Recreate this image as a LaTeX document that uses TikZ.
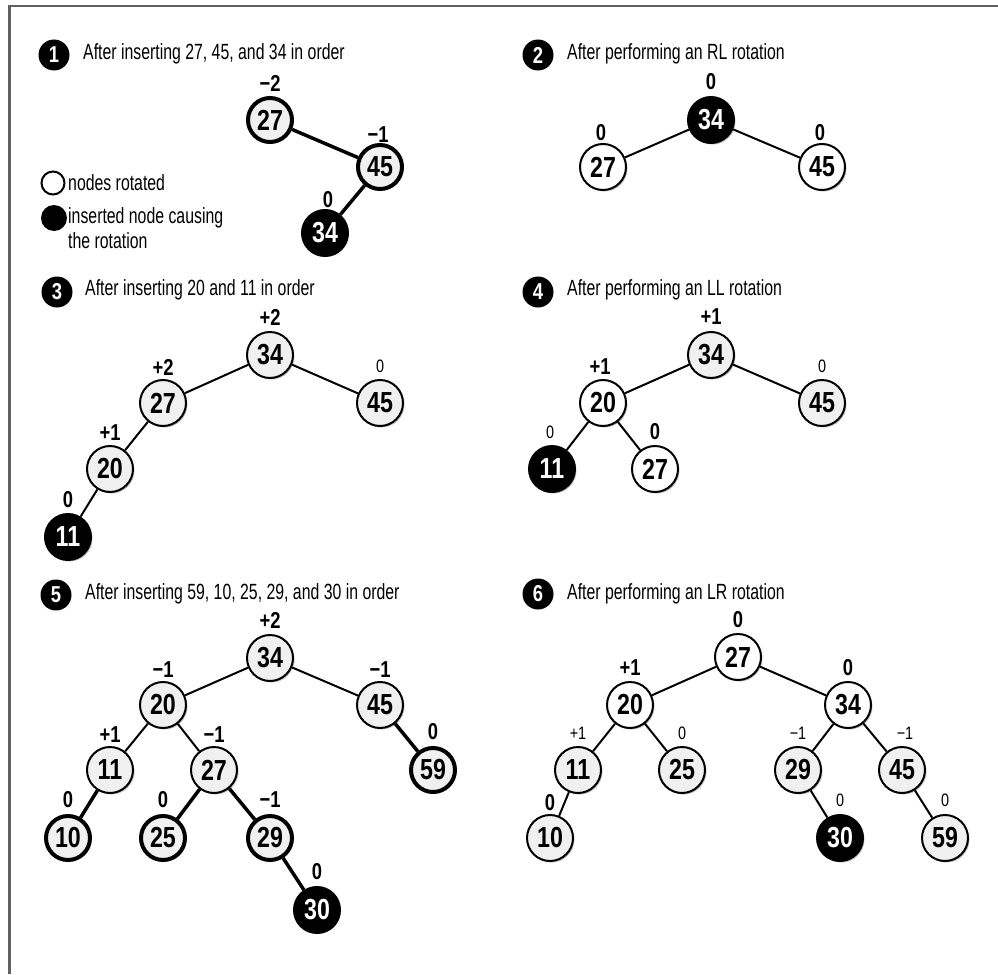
\documentclass[tikz,border=0pt]{standalone}
\usepackage{fontspec}
\setmainfont{Liberation Sans}
\newfontfamily\headfont{Liberation Sans}[FakeStretch=0.72]
\newfontfamily\numfont{Liberation Sans}[FakeStretch=0.8]
\usetikzlibrary{shadows}
\definecolor{nodegray}{HTML}{F0F0F0}
\definecolor{framegray}{HTML}{606060}
\tikzset{
  nd/.style={circle, draw=black, line width=2pt, fill=nodegray, minimum size=46pt, inner sep=0pt,
    font=\numfont\bfseries\fontsize{29}{29}\selectfont,
    drop shadow={shadow xshift=1.5pt, shadow yshift=-1.5pt, opacity=0.25, fill=black}},
  thk/.style={line width=4pt, minimum size=44pt},
  wh/.style={fill=white},
  bk/.style={fill=black, text=white},
  lbb/.style={font=\numfont\bfseries\fontsize{23}{23}\selectfont, inner sep=0pt},
  lbs/.style={font=\numfont\fontsize{18}{18}\selectfont, inner sep=0pt},
  edg/.style={line width=2pt},
  tedg/.style={line width=3.5pt},
  bul/.style={circle, fill=black, text=white, minimum size=31pt, inner sep=0pt,
    font=\numfont\bfseries\fontsize{23}{23}\selectfont},
  head/.style={anchor=west, inner sep=0pt, font=\headfont\fontsize{22}{22}\selectfont},
  leg/.style={anchor=west, inner sep=0pt, align=left, font=\headfont\fontsize{22}{25}\selectfont}
}
\begin{document}
\begin{tikzpicture}[x=1pt,y=-1pt]
\useasboundingbox (0,0) rectangle (998,974);
% frame
\draw[framegray, line width=2.5pt] (9.5,974) -- (9.5,6) -- (998,6);

% ---------- Panel 1 ----------
\node[bul] (b1) at (54,55) {1};
\node[head] (h1) at (83,54) {After inserting 27, 45, and 34 in order};
\node[nd,thk] (p1a) at (270,120) {27};
\node[nd,thk] (p1b) at (380,167) {45};
\node[nd,thk,bk] (p1c) at (325,233) {34};
\draw[tedg] (p1a) -- (p1b);
\draw[tedg] (p1b) -- (p1c);
\node[lbb] (l1a) at (270,83) {−2};
\node[lbb] (l1b) at (378,135) {−1};
\node[lbb] (l1c) at (328,200) {0};
% legend
\node[circle, draw=black, line width=2pt, fill=white, minimum size=23pt, inner sep=0pt] (lgw) at (53,183) {};
\node[circle, fill=black, minimum size=26pt, inner sep=0pt] (lgb) at (54,218) {};
\node[leg] (lgt1) at (68,183) {nodes rotated};
\node[leg, anchor=north west] (lgt2) at (68,207) {inserted node causing\\the rotation};

% ---------- Panel 2 ----------
\node[bul] (b2) at (538,55) {2};
\node[head] (h2) at (567,54) {After performing an RL rotation};
\node[nd,bk] (p2a) at (711,120) {34};
\node[nd,wh] (p2b) at (603,167) {27};
\node[nd,wh] (p2c) at (822,167) {45};
\draw[edg] (p2a) -- (p2b);
\draw[edg] (p2a) -- (p2c);
\node[lbb] (l2a) at (711,82) {0};
\node[lbb] (l2b) at (601,133) {0};
\node[lbb] (l2c) at (820,133) {0};

% ---------- Panel 3 ----------
\node[bul] (b3) at (57,292) {3};
\node[head] (h3) at (85,290) {After inserting 20 and 11 in order};
\node[nd] (p3a) at (270,355) {34};
\node[nd] (p3b) at (163,403) {27};
\node[nd] (p3c) at (380,403) {45};
\node[nd] (p3d) at (110,469) {20};
\node[nd,bk] (p3e) at (68,537) {11};
\draw[edg] (p3a) -- (p3b);
\draw[edg] (p3a) -- (p3c);
\draw[edg] (p3b) -- (p3d);
\draw[edg] (p3d) -- (p3e);
\node[lbb] (l3a) at (270,317) {+2};
\node[lbb] (l3b) at (163,367) {+2};
\node[lbs] (l3c) at (380,366) {0};
\node[lbb] (l3d) at (110,433) {+1};
\node[lbb] (l3e) at (68,500) {0};

% ---------- Panel 4 ----------
\node[bul] (b4) at (538,292) {4};
\node[head] (h4) at (567,290) {After performing an LL rotation};
\node[nd] (p4a) at (711,355) {34};
\node[nd,wh] (p4b) at (603,403) {20};
\node[nd] (p4c) at (822,403) {45};
\node[nd,bk] (p4d) at (552,469) {11};
\node[nd,wh] (p4e) at (655,469) {27};
\draw[edg] (p4a) -- (p4b);
\draw[edg] (p4a) -- (p4c);
\draw[edg] (p4b) -- (p4d);
\draw[edg] (p4b) -- (p4e);
\node[lbb] (l4a) at (711,317) {+1};
\node[lbb] (l4b) at (600,367) {+1};
\node[lbs] (l4c) at (822,366) {0};
\node[lbs] (l4d) at (550,432) {0};
\node[lbb] (l4e) at (655,432) {0};

% ---------- Panel 5 ----------
\node[bul] (b5) at (56,595) {5};
\node[head] (h5) at (85,594) {After inserting 59, 10, 25, 29, and 30 in order};
\node[nd] (p5a) at (270,658) {34};
\node[nd] (p5b) at (163,705) {20};
\node[nd] (p5c) at (380,705) {45};
\node[nd] (p5d) at (110,770) {11};
\node[nd] (p5e) at (214,770) {27};
\node[nd,thk] (p5f) at (433,770) {59};
\node[nd,thk] (p5g) at (68,838) {10};
\node[nd,thk] (p5h) at (163,838) {25};
\node[nd,thk] (p5i) at (270,838) {29};
\node[nd,thk,bk] (p5j) at (317,910) {30};
\draw[edg] (p5a) -- (p5b);
\draw[edg] (p5a) -- (p5c);
\draw[edg] (p5b) -- (p5d);
\draw[edg] (p5b) -- (p5e);
\draw[tedg] (p5c) -- (p5f);
\draw[tedg] (p5d) -- (p5g);
\draw[tedg] (p5e) -- (p5h);
\draw[tedg] (p5e) -- (p5i);
\draw[tedg] (p5i) -- (p5j);
\node[lbb] (l5a) at (270,620) {+2};
\node[lbb] (l5b) at (163,670) {−1};
\node[lbb] (l5c) at (380,670) {−1};
\node[lbb] (l5d) at (110,735) {+1};
\node[lbb] (l5e) at (214,735) {−1};
\node[lbb] (l5f) at (433,732) {0};
\node[lbb] (l5g) at (68,800) {0};
\node[lbb] (l5h) at (163,800) {0};
\node[lbb] (l5i) at (270,800) {−1};
\node[lbb] (l5j) at (317,872) {0};

% ---------- Panel 6 ----------
\node[bul] (b6) at (538,594) {6};
\node[head] (h6) at (567,594) {After performing an LR rotation};
\node[nd,wh] (p6a) at (738,657) {27};
\node[nd,wh] (p6b) at (630,705) {20};
\node[nd,wh] (p6c) at (848,705) {34};
\node[nd] (p6d) at (578,770) {11};
\node[nd] (p6e) at (682,770) {25};
\node[nd] (p6f) at (798,770) {29};
\node[nd] (p6g) at (902,770) {45};
\node[nd] (p6h) at (550,838) {10};
\node[nd,bk] (p6i) at (840,838) {30};
\node[nd] (p6j) at (945,838) {59};
\draw[edg] (p6a) -- (p6b);
\draw[edg] (p6a) -- (p6c);
\draw[edg] (p6b) -- (p6d);
\draw[edg] (p6b) -- (p6e);
\draw[edg] (p6c) -- (p6f);
\draw[edg] (p6c) -- (p6g);
\draw[edg] (p6d) -- (p6h);
\draw[edg] (p6f) -- (p6i);
\draw[edg] (p6g) -- (p6j);
\node[lbb] (l6a) at (738,620) {0};
\node[lbb] (l6b) at (630,668) {+1};
\node[lbb] (l6c) at (848,668) {0};
\node[lbs] (l6d) at (578,733) {+1};
\node[lbs] (l6e) at (682,733) {0};
\node[lbs] (l6f) at (798,733) {−1};
\node[lbs] (l6g) at (905,733) {−1};
\node[lbb] (l6h) at (550,803) {0};
\node[lbs] (l6i) at (840,800) {0};
\node[lbs] (l6j) at (945,800) {0};
\end{tikzpicture}
\end{document}
